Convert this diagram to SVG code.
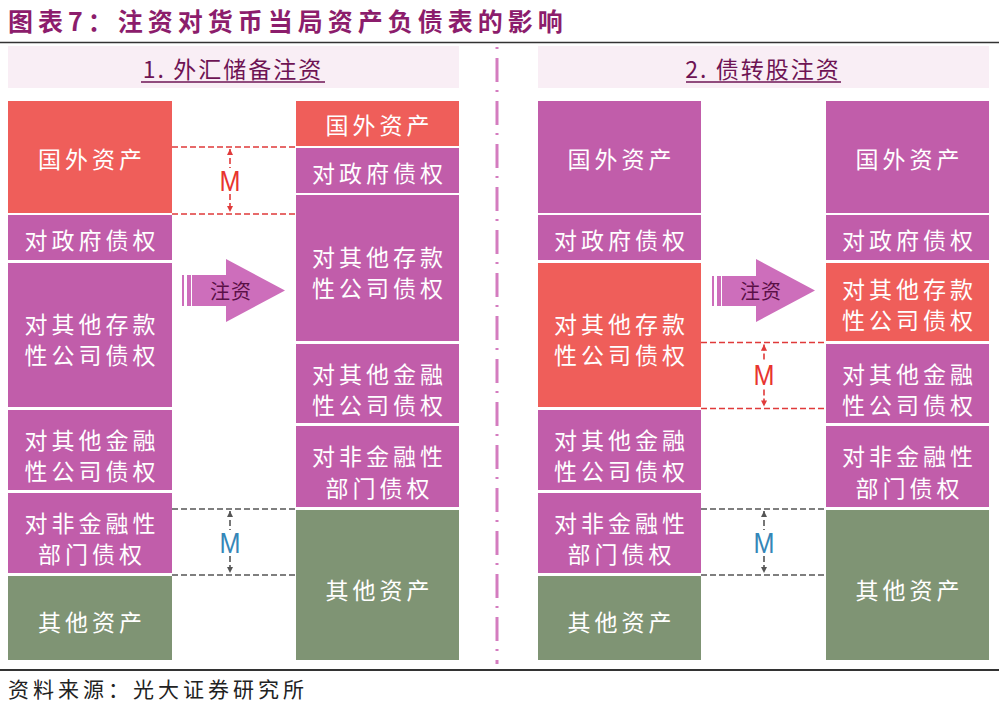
<svg xmlns="http://www.w3.org/2000/svg" width="999" height="704" viewBox="0 0 999 704">
<defs>
<style>
.bg{fill:#ffffff}
.r{fill:#EF5E5A}
.p{fill:#C15DAA}
.g{fill:#7F9474}
.hdr{fill:#F9EEF5}
.lbl{font-family:"Noto Sans CJK SC",sans-serif;font-size:23px;fill:#ffffff;text-anchor:middle;dominant-baseline:central;letter-spacing:4px}
.ttl{font-family:"Noto Sans CJK SC",sans-serif;font-size:25px;font-weight:bold;fill:#8C1D6C;letter-spacing:5px}
.htx{font-family:"Noto Sans CJK SC",sans-serif;font-size:23px;fill:#6E1454;text-anchor:middle;dominant-baseline:central;letter-spacing:2px}
.src{font-family:"Noto Sans CJK SC",sans-serif;font-size:21px;fill:#222222;letter-spacing:4px}
.arw{fill:#CD6EBB}
.atx{font-family:"Noto Sans CJK SC",sans-serif;font-size:20px;fill:#5A1047;text-anchor:middle;dominant-baseline:central;letter-spacing:1px}
.dr{stroke:#E03A3A;stroke-width:1.6;stroke-dasharray:6,3;fill:none}
.dg{stroke:#555555;stroke-width:1.6;stroke-dasharray:6,3;fill:none}
.mr{font-family:"Liberation Sans",sans-serif;font-size:30px;fill:#E8342F;text-anchor:middle}
.mg{font-family:"Liberation Sans",sans-serif;font-size:30px;fill:#3586B8;text-anchor:middle}
</style>
<marker id="ahr" viewBox="0 0 8 8" refX="7" refY="4" markerWidth="7" markerHeight="7" orient="auto-start-reverse" markerUnits="userSpaceOnUse"><path d="M0,0.5 L7,4 L0,7.5 Z" fill="#E03A3A"/></marker>
<marker id="ahg" viewBox="0 0 8 8" refX="7" refY="4" markerWidth="7" markerHeight="7" orient="auto-start-reverse" markerUnits="userSpaceOnUse"><path d="M0,0.5 L7,4 L0,7.5 Z" fill="#555555"/></marker>
</defs>
<rect class="bg" x="0" y="0" width="999" height="704"/>

<g id="title">
<text class="ttl" x="8" y="31">图表7：注资对货币当局资产负债表的影响</text>
<line x1="0" y1="42.5" x2="999" y2="42.5" stroke="#333333" stroke-width="1.5"/>
</g>

<g id="header-left">
<rect class="hdr" x="8" y="46" width="451" height="42"/>
<text class="htx" x="233" y="68">1. 外汇储备注资</text>
<line x1="141" y1="82" x2="325" y2="82" stroke="#6E1454" stroke-width="1.5"/>
</g>
<g id="header-right">
<rect class="hdr" x="538" y="46" width="451" height="42"/>
<text class="htx" x="763" y="68">2. 债转股注资</text>
<line x1="686" y1="82" x2="841" y2="82" stroke="#6E1454" stroke-width="1.5"/>
</g>

<g id="divider">
<line x1="497" y1="47" x2="497" y2="664" stroke="#D47CBF" stroke-width="3" stroke-dasharray="2,9,24,8"/>
</g>

<!-- Panel 1, before -->
<g id="p1-before">
<g id="p1b-foreign"><rect class="r" x="8" y="101" width="164" height="112"/><text class="lbl" x="92" y="158">国外资产</text></g>
<g id="p1b-gov"><rect class="p" x="8" y="215" width="164" height="45"/><text class="lbl" x="92" y="239">对政府债权</text></g>
<g id="p1b-odc"><rect class="p" x="8" y="263" width="164" height="144"/><text class="lbl" x="92" y="323">对其他存款</text><text class="lbl" x="92" y="354">性公司债权</text></g>
<g id="p1b-ofc"><rect class="p" x="8" y="410" width="164" height="80"/><text class="lbl" x="92" y="439">对其他金融</text><text class="lbl" x="92" y="470">性公司债权</text></g>
<g id="p1b-nfc"><rect class="p" x="8" y="493" width="164" height="80"/><text class="lbl" x="92" y="522">对非金融性</text><text class="lbl" x="92" y="553">部门债权</text></g>
<g id="p1b-other"><rect class="g" x="8" y="576" width="164" height="84"/><text class="lbl" x="92" y="621">其他资产</text></g>
</g>

<!-- Panel 1, after -->
<g id="p1-after">
<g id="p1a-foreign"><rect class="r" x="296" y="101" width="163" height="45"/><text class="lbl" x="379.5" y="124">国外资产</text></g>
<g id="p1a-gov"><rect class="p" x="296" y="148" width="163" height="45"/><text class="lbl" x="379.5" y="172">对政府债权</text></g>
<g id="p1a-odc"><rect class="p" x="296" y="195" width="163" height="146"/><text class="lbl" x="379.5" y="256">对其他存款</text><text class="lbl" x="379.5" y="287">性公司债权</text></g>
<g id="p1a-ofc"><rect class="p" x="296" y="344" width="163" height="79"/><text class="lbl" x="379.5" y="373">对其他金融</text><text class="lbl" x="379.5" y="404">性公司债权</text></g>
<g id="p1a-nfc"><rect class="p" x="296" y="426" width="163" height="81"/><text class="lbl" x="379.5" y="455">对非金融性</text><text class="lbl" x="379.5" y="487">部门债权</text></g>
<g id="p1a-other"><rect class="g" x="296" y="510" width="163" height="150"/><text class="lbl" x="379.5" y="589">其他资产</text></g>
</g>

<!-- Panel 2, before -->
<g id="p2-before">
<g id="p2b-foreign"><rect class="p" x="538" y="101" width="163" height="112"/><text class="lbl" x="621.5" y="158">国外资产</text></g>
<g id="p2b-gov"><rect class="p" x="538" y="215" width="163" height="45"/><text class="lbl" x="621.5" y="239">对政府债权</text></g>
<g id="p2b-odc"><rect class="r" x="538" y="263" width="163" height="144"/><text class="lbl" x="621.5" y="323">对其他存款</text><text class="lbl" x="621.5" y="354">性公司债权</text></g>
<g id="p2b-ofc"><rect class="p" x="538" y="410" width="163" height="80"/><text class="lbl" x="621.5" y="439">对其他金融</text><text class="lbl" x="621.5" y="470">性公司债权</text></g>
<g id="p2b-nfc"><rect class="p" x="538" y="493" width="163" height="80"/><text class="lbl" x="621.5" y="522">对非金融性</text><text class="lbl" x="621.5" y="553">部门债权</text></g>
<g id="p2b-other"><rect class="g" x="538" y="576" width="163" height="84"/><text class="lbl" x="621.5" y="621">其他资产</text></g>
</g>

<!-- Panel 2, after -->
<g id="p2-after">
<g id="p2a-foreign"><rect class="p" x="826" y="101" width="163" height="112"/><text class="lbl" x="909.5" y="158">国外资产</text></g>
<g id="p2a-gov"><rect class="p" x="826" y="215" width="163" height="45"/><text class="lbl" x="909.5" y="239">对政府债权</text></g>
<g id="p2a-odc"><rect class="r" x="826" y="263" width="163" height="78"/><text class="lbl" x="909.5" y="288">对其他存款</text><text class="lbl" x="909.5" y="319">性公司债权</text></g>
<g id="p2a-ofc"><rect class="p" x="826" y="344" width="163" height="79"/><text class="lbl" x="909.5" y="373">对其他金融</text><text class="lbl" x="909.5" y="404">性公司债权</text></g>
<g id="p2a-nfc"><rect class="p" x="826" y="426" width="163" height="81"/><text class="lbl" x="909.5" y="455">对非金融性</text><text class="lbl" x="909.5" y="487">部门债权</text></g>
<g id="p2a-other"><rect class="g" x="826" y="510" width="163" height="150"/><text class="lbl" x="909.5" y="589">其他资产</text></g>
</g>

<!-- Big arrows -->
<g id="arrow-1">
<rect class="arw" x="182" y="275" width="2" height="31"/>
<rect class="arw" x="187" y="275" width="4" height="31"/>
<path class="arw" d="M192,275 L226,275 L226,259 L285,290.5 L226,322 L226,306 L192,306 Z"/>
<text class="atx" x="231" y="290">注资</text>
</g>
<g id="arrow-2">
<rect class="arw" x="712" y="276" width="2" height="30"/>
<rect class="arw" x="717" y="276" width="4" height="30"/>
<path class="arw" d="M722,276 L756,276 L756,259 L815,290.5 L756,322 L756,306 L722,306 Z"/>
<text class="atx" x="761" y="290">注资</text>
</g>

<g id="connectors">
<line class="dr" x1="172" y1="147" x2="296" y2="147"/>
<line class="dr" x1="172" y1="214" x2="296" y2="214"/>
<line class="dr" x1="230" y1="149" x2="230" y2="212" marker-start="url(#ahr)" marker-end="url(#ahr)"/>
<line class="dg" x1="172" y1="509" x2="296" y2="509"/>
<line class="dg" x1="172" y1="575" x2="296" y2="575"/>
<line class="dg" x1="230" y1="511" x2="230" y2="573" marker-start="url(#ahg)" marker-end="url(#ahg)"/>
<line class="dr" x1="701" y1="342.5" x2="826" y2="342.5"/>
<line class="dr" x1="701" y1="408.5" x2="826" y2="408.5"/>
<line class="dr" x1="764" y1="344.5" x2="764" y2="406.5" marker-start="url(#ahr)" marker-end="url(#ahr)"/>
<line class="dg" x1="701" y1="509" x2="826" y2="509"/>
<line class="dg" x1="701" y1="575" x2="826" y2="575"/>
<line class="dg" x1="764" y1="511" x2="764" y2="573" marker-start="url(#ahg)" marker-end="url(#ahg)"/>
</g>

<g id="m-labels">
<rect x="219" y="168" width="22" height="26" fill="#ffffff"/>
<text class="mr" x="230" y="191" textLength="21" lengthAdjust="spacingAndGlyphs">M</text>
<rect x="219" y="530" width="22" height="26" fill="#ffffff"/>
<text class="mg" x="230" y="553" textLength="21" lengthAdjust="spacingAndGlyphs">M</text>
<rect x="753" y="362" width="22" height="26" fill="#ffffff"/>
<text class="mr" x="764" y="385" textLength="21" lengthAdjust="spacingAndGlyphs">M</text>
<rect x="753" y="530" width="22" height="26" fill="#ffffff"/>
<text class="mg" x="764" y="553" textLength="21" lengthAdjust="spacingAndGlyphs">M</text>
</g>

<g id="source">
<line x1="0" y1="670" x2="999" y2="670" stroke="#333333" stroke-width="2"/>
<text class="src" x="8" y="697">资料来源：光大证券研究所</text>
</g>
</svg>
